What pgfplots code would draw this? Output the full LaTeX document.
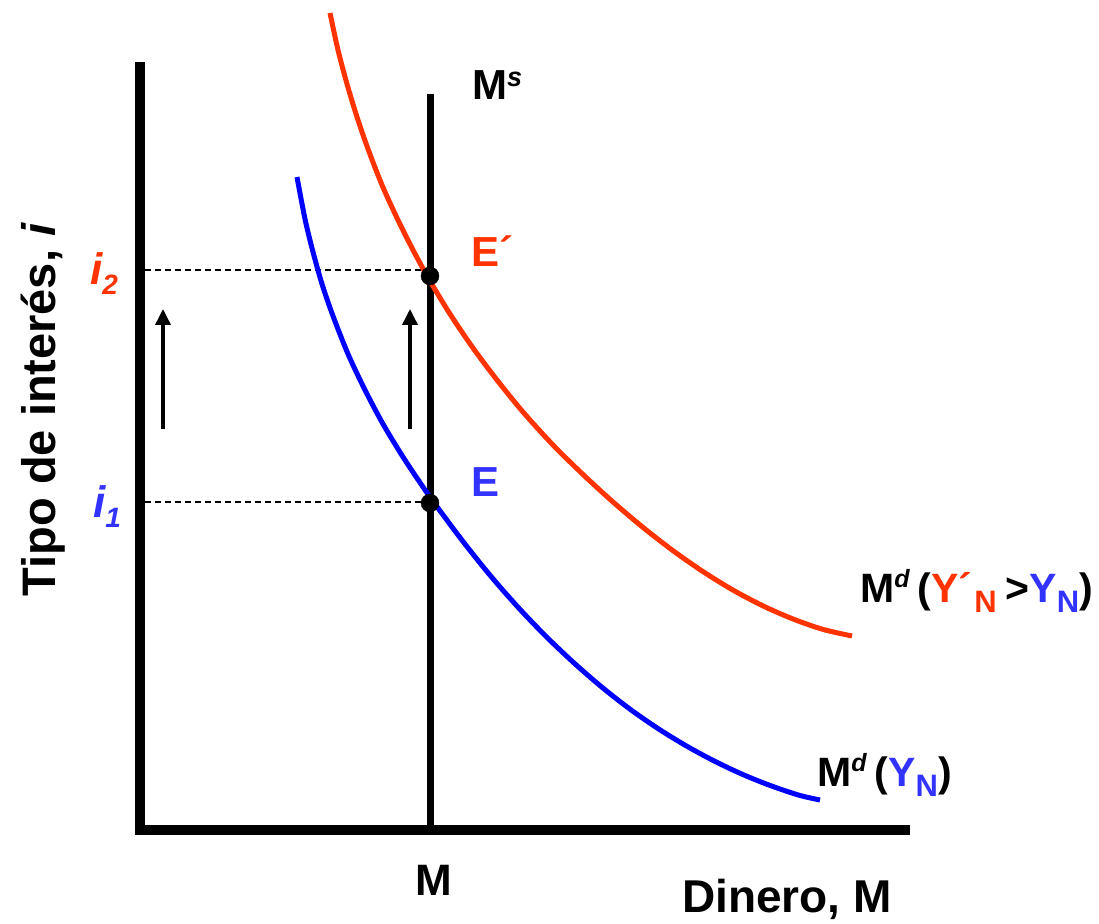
\documentclass[border=0pt]{standalone}
\usepackage{fontspec}
\setmainfont{Liberation Sans}
\usepackage{pgfplots}
\pgfplotsset{compat=1.18}
\usetikzlibrary{arrows.meta}
\definecolor{rojo}{HTML}{FF3300}
\definecolor{azul}{HTML}{3333FF}
\definecolor{azulc}{HTML}{0000FF}
\newcommand{\fs}[1]{\fontsize{#1}{#1}\selectfont}
\begin{document}
\begin{tikzpicture}
\begin{axis}[scale only axis, width=1099pt, height=923pt,
  xmin=0, xmax=1099, ymin=0, ymax=923, hide axis, clip=false]
% bounding box
\addplot[draw=none, forget plot] coordinates {(0,0) (1099,923)};
% dashed guides
\addplot[black, line width=1.3pt, dash pattern=on 6pt off 4pt] coordinates {(145,653) (430,653)};
\addplot[black, line width=1.3pt, dash pattern=on 6pt off 4pt] coordinates {(145,421) (430,421)};
% money supply
\addplot[black, line width=7pt] coordinates {(430.5,829) (430.5,93)};
% equilibrium points
\addplot[only marks, mark=*, mark size=9pt, black] coordinates {(430,647) (430,420)};
% money demand curves
\addplot[rojo, line width=5pt, smooth] coordinates {
(330,910) (338,873) (347,839) (357,806) (368,774) (382,738) (397,705) (413,673)
(430,642) (450,609) (473,575) (497,543) (523,511) (553,478) (583,448.5) (613,421)
(643,395.6) (673,372.3) (703,351.4) (733,332.9) (763,317.1) (793,304) (823,293.6) (852,287)};
\addplot[azulc, line width=5pt, smooth] coordinates {
(297,746) (305,704) (313,671) (322,639) (333,607) (348,569) (365,533) (383,499)
(403,466) (423,436) (435,419) (463,381.5) (491,346.6) (519,314.7) (547,285.6)
(575,259.1) (603,234.9) (631,213.1) (659,193.8) (687,176.7) (715,161.6)
(743,148.4) (771,137.2) (799,127.8) (820,123)};
% arrows
\addplot[black, line width=3.5pt, -{Triangle[length=16pt,width=15pt]}] coordinates {(163,494) (163,614)};
\addplot[black, line width=3.5pt, -{Triangle[length=16pt,width=15pt]}] coordinates {(410,494) (410,614)};
% axes
\addplot[black, line width=10pt] coordinates {(140,861) (140,88)};
\addplot[black, line width=10pt] coordinates {(135,93) (910,93)};
% labels
\node[anchor=base west, inner sep=0pt] at (axis cs:472,823) {{\fs{42}\bfseries M}\raisebox{13pt}{\fs{27}\bfseries\itshape s}};
\node[anchor=base west, inner sep=0pt, text=rojo] at (axis cs:471,656) {\fs{42}\bfseries E´};
\node[anchor=base west, inner sep=0pt, text=azul] at (axis cs:471,426) {\fs{42}\bfseries E};
\node[anchor=base, inner sep=0pt] at (axis cs:434,28) {\fs{44}\bfseries M};
\node[anchor=base west, inner sep=0pt] at (axis cs:682,11) {\fs{46}\bfseries Dinero, M};
\node[anchor=base, rotate=90, inner sep=0pt] at (axis cs:55,513) {\fs{47}\bfseries Tipo de interés, \itshape i};
\node[anchor=base west, inner sep=0pt, text=rojo] at (axis cs:90,638) {{\fs{44}\bfseries\itshape i}\raisebox{-10pt}{\fs{28}\bfseries\itshape 2}};
\node[anchor=base west, inner sep=0pt, text=azul] at (axis cs:93,405) {{\fs{44}\bfseries\itshape i}\raisebox{-10pt}{\fs{28}\bfseries\itshape 1}};
\node[anchor=base west, inner sep=0pt] at (axis cs:860,320) {{\fs{41}\bfseries M}\raisebox{15pt}{\fs{25}\bfseries\itshape d}\hspace{8pt}{\fs{41}\bfseries (}{\fs{41}\bfseries\color{rojo}Y´}\hspace{2pt}\raisebox{-10pt}{\fs{31}\bfseries\color{rojo}N}\hspace{9pt}{\fs{41}\bfseries >}{\fs{41}\bfseries\color{azul}Y}\raisebox{-10pt}{\fs{31}\bfseries\color{azul}N}{\fs{41}\bfseries )}};
\node[anchor=base west, inner sep=0pt] at (axis cs:817,136) {{\fs{41}\bfseries M}\raisebox{15pt}{\fs{25}\bfseries\itshape d}\hspace{8pt}{\fs{41}\bfseries (}{\fs{41}\bfseries\color{azul}Y}\raisebox{-10pt}{\fs{31}\bfseries\color{azul}N}{\fs{41}\bfseries )}};
\end{axis}
\end{tikzpicture}
\end{document}
